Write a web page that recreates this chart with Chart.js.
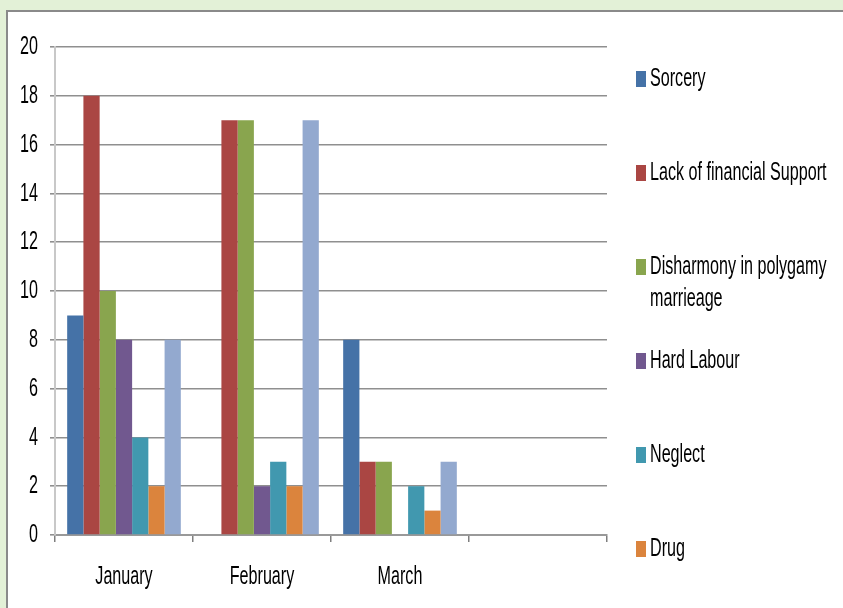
<!DOCTYPE html>
<html>
<head>
<meta charset="utf-8">
<script src="https://cdn.jsdelivr.net/npm/chart.js@4/dist/chart.umd.min.js"></script>
<style>
    html, body { margin: 0; padding: 0; }
    body { width: 843px; height: 608px; background: #e3f1d7; position: relative; overflow: hidden; }
    .panel { position: absolute; left: 6px; top: 10px; width: 900px; height: 700px; background: #fff; border: 2px solid #8a8a8a; }
    .chart-wrap { position: absolute; left: 0; top: 0; width: 843px; height: 608px; }
</style>
</head>
<body>
<div class="panel"></div>
<div class="chart-wrap"><canvas id="chart"></canvas></div>
<script>
    'use strict';

    // the original text is a tall, narrow face; squeeze Liberation Sans to get close
    const FONT = "26px 'Liberation Sans', Arial, sans-serif";
    const SQUEEZE = 0.62;

    // categories (the fourth group is empty in the original)
    const months = ['January', 'February', 'March', ''];

    const causes = [
        'Sorcery',
        'Lack of financial Support',
        'Disharmony in polygamy marrieage',
        'Hard Labour',
        'Neglect',
        'Drug',
        'Other'
    ];

    const sorcery       = [9, 0, 8];
    const lackSupport   = [18, 17, 3];
    const disharmony    = [10, 17, 3];
    const hardLabour    = [8, 2, 0];
    const neglect       = [4, 3, 2];
    const drug          = [2, 2, 1];
    const other         = [8, 17, 3];

    const colors = ['#4572a7', '#aa4643', '#89a54e', '#71588f', '#4198af', '#db843d', '#93a9cf'];

    const yTicks = [0, 2, 4, 6, 8, 10, 12, 14, 16, 18, 20];

    const series = [sorcery, lackSupport, disharmony, hardLabour, neglect, drug, other];

    function squeezedText(ctx, text, x, y, align) {
        const w = ctx.measureText(text).width * SQUEEZE;
        let left = x;
        if (align === 'right') left = x - w;
        if (align === 'center') left = x - w / 2;
        ctx.save();
        ctx.translate(left, y);
        ctx.scale(SQUEEZE, 1);
        ctx.fillText(text, 0, 0);
        ctx.restore();
    }

    // axis labels, drawn from the chart's own scales
    const axisLabels = {
        id: 'axisLabels',
        afterDraw(chart) {
            const ctx = chart.ctx;
            const x = chart.scales.x;
            const y = chart.scales.y;
            ctx.save();
            ctx.font = FONT;
            ctx.fillStyle = '#000';
            ctx.textAlign = 'left';
            ctx.textBaseline = 'middle';

            yTicks.forEach((v) => squeezedText(ctx, String(v), 38, y.getPixelForValue(v), 'right'));
            months.forEach((m, i) => squeezedText(ctx, m, x.getPixelForTick(i), 577, 'center'));
            ctx.restore();
        }
    };

    // legend on the right, spaced like the original
    const sideLegend = {
        id: 'sideLegend',
        afterDraw(chart) {
            const ctx = chart.ctx;
            ctx.save();
            ctx.font = FONT;
            ctx.textAlign = 'left';
            ctx.textBaseline = 'middle';

            chart.data.datasets.forEach((ds, i) => {
                const y = 79 + i * 94;
                ctx.fillStyle = ds.backgroundColor;
                ctx.fillRect(636, y - 8, 10, 16);

                // wrap long labels
                const words = ds.label.split(' ');
                const lines = [];
                let line = '';
                words.forEach((w) => {
                    const test = line ? line + ' ' + w : w;
                    if (ctx.measureText(test).width * SQUEEZE > 185 && line) {
                        lines.push(line);
                        line = w;
                    } else {
                        line = test;
                    }
                });
                lines.push(line);

                ctx.fillStyle = '#000';
                lines.forEach((l, k) => squeezedText(ctx, l, 650, y + k * 32, 'left'));
            });
            ctx.restore();
        }
    };

    new Chart(document.getElementById('chart').getContext('2d'), {
        type: 'bar',
        data: {
            labels: months,
            datasets: series.map((values, i) => ({
                label: causes[i],
                data: values,
                backgroundColor: colors[i],
                borderWidth: 0
            }))
        },
        options: {
            responsive: true,
            maintainAspectRatio: false,
            animation: false,
            layout: { padding: { top: 47, right: 236, left: 0, bottom: 0 } },
            datasets: { bar: { categoryPercentage: 7 / 8.5, barPercentage: 1 } },
            plugins: { legend: { display: false }, tooltip: { enabled: false } },
            scales: {
                x: {
                    afterFit: (scale) => { scale.height = 73; },
                    grid: {
                        offset: true,
                        drawOnChartArea: false,
                        drawTicks: true,
                        tickLength: 7,
                        color: '#7f7f7f',
                        lineWidth: 1.5
                    },
                    border: { color: '#999999', width: 2 },
                    ticks: { display: false }
                },
                y: {
                    min: 0,
                    max: 20,
                    afterFit: (scale) => { scale.width = 55; },
                    afterBuildTicks: (scale) => { scale.ticks = yTicks.map((v) => ({ value: v })); },
                    grid: { color: '#8f8f8f', lineWidth: 1.6, tickLength: 5 },
                    border: { color: '#c8c8c8', width: 2 },
                    ticks: { display: false }
                }
            }
        },
        plugins: [axisLabels, sideLegend]
    });
</script>
</body>
</html>
